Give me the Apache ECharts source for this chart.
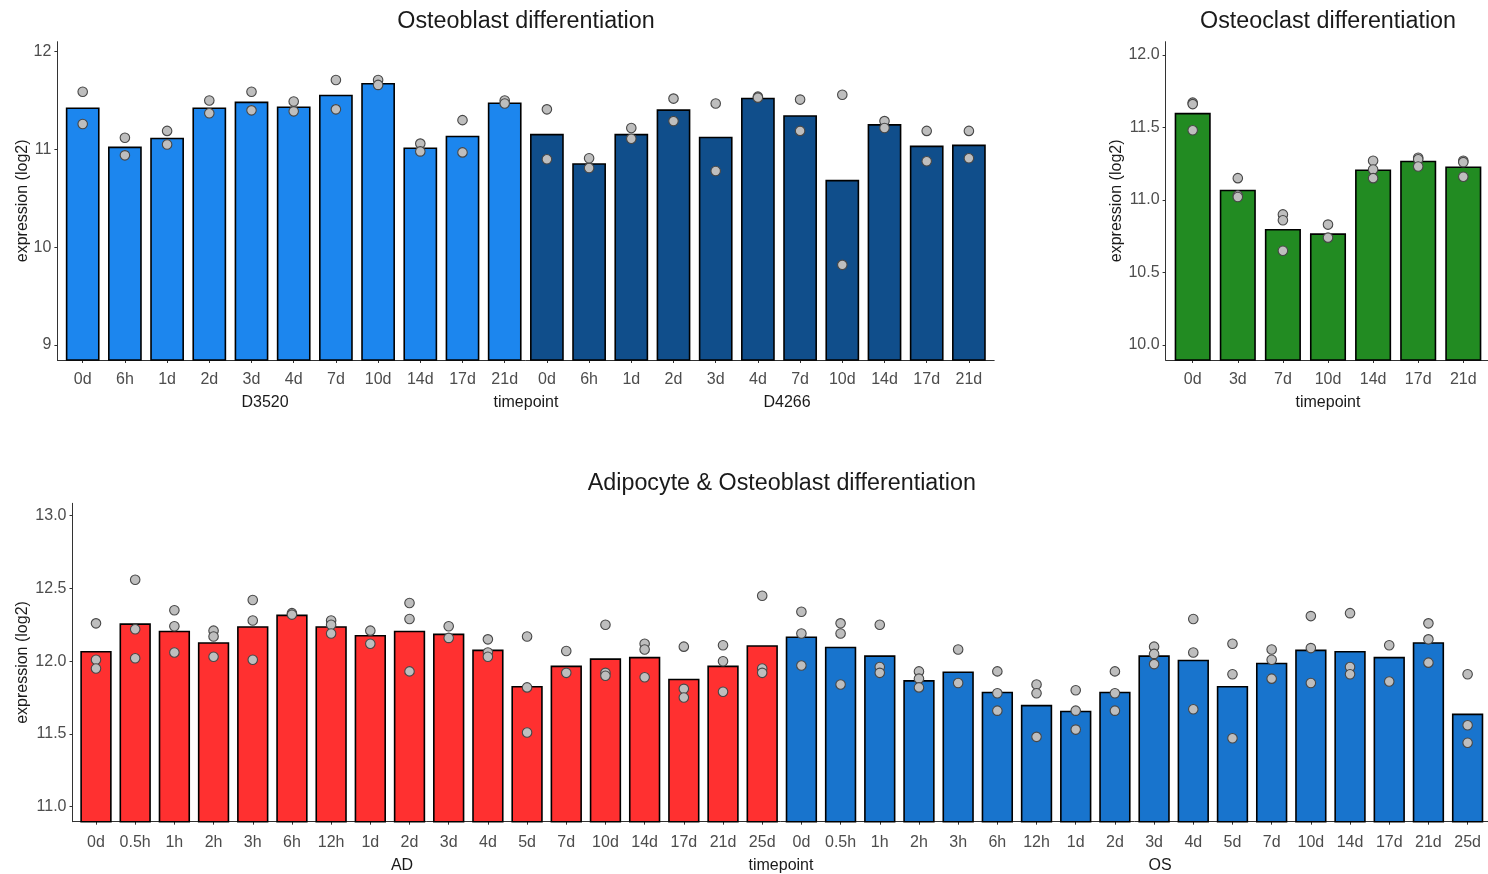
<!DOCTYPE html>
<html>
<head>
<meta charset="utf-8">
<script src="https://cdn.jsdelivr.net/npm/echarts@6/dist/echarts.min.js"></script>
<style>
  html, body { margin: 0; padding: 0; background: #ffffff; }
  #chart { width: 1488px; height: 874px; }
</style>
</head>
<body>
<div id="chart"></div>
<script>
// ---------- data: mean expression (bars) and replicate values (dots) ----------
const timeLabelsOB = ['0d', '6h', '1d', '2d', '3d', '4d', '7d', '10d', '14d', '17d', '21d'];

const d3520Means = [11.43, 11.03, 11.12, 11.43, 11.49, 11.44, 11.56, 11.68, 11.02, 11.14, 11.48];
const d3520Reps = [
  [11.59, 11.26], [11.12, 10.94], [11.19, 11.05], [11.50, 11.37], [11.59, 11.40], [11.49, 11.39],
  [11.71, 11.41], [11.71, 11.66], [11.06, 10.98], [11.30, 10.97], [11.50, 11.47]
];

const d4266Means = [11.16, 10.86, 11.16, 11.41, 11.13, 11.53, 11.35, 10.69, 11.26, 11.04, 11.05];
const d4266Reps = [
  [11.41, 10.90], [10.91, 10.81], [11.22, 11.11], [11.52, 11.29], [11.47, 10.78], [11.54, 11.53],
  [11.51, 11.19], [11.56, 9.82], [11.29, 11.22], [11.19, 10.88], [11.19, 10.91]
];

const timeLabelsOC = ['0d', '3d', '7d', '10d', '14d', '17d', '21d'];
const oclMeans = [11.60, 11.07, 10.80, 10.77, 11.21, 11.27, 11.23];
const oclReps = [
  [11.67, 11.66, 11.48], [11.15, 11.03, 11.02], [10.90, 10.86, 10.65], [10.83, 10.74],
  [11.27, 11.21, 11.15], [11.29, 11.28, 11.23], [11.27, 11.26, 11.16]
];

const timeLabelsAO = ['0d', '0.5h', '1h', '2h', '3h', '6h', '12h', '1d', '2d', '3d', '4d', '5d', '7d', '10d', '14d', '17d', '21d', '25d'];

const adMeans = [12.07, 12.26, 12.21, 12.13, 12.24, 12.32, 12.24, 12.18, 12.21, 12.19, 12.08, 11.83, 11.97, 12.02, 12.03, 11.88, 11.97, 12.11];
const adReps = [
  [12.26, 12.01, 11.95], [12.56, 12.22, 12.02], [12.35, 12.24, 12.06], [12.21, 12.17, 12.03],
  [12.42, 12.28, 12.01], [12.33, 12.32], [12.28, 12.25, 12.19], [12.21, 12.12],
  [12.40, 12.29, 11.93], [12.24, 12.16], [12.15, 12.06, 12.03], [12.17, 11.82, 11.51],
  [12.07, 11.92], [12.25, 11.92, 11.90], [12.12, 12.08, 11.89], [12.10, 11.81, 11.75],
  [12.11, 12.00, 11.79], [12.45, 11.95, 11.92]
];

const osMeans = [12.17, 12.10, 12.04, 11.87, 11.93, 11.79, 11.70, 11.66, 11.79, 12.04, 12.01, 11.83, 11.99, 12.08, 12.07, 12.03, 12.13, 11.64];
const osReps = [
  [12.34, 12.19, 11.97], [12.26, 12.19, 11.84], [12.25, 11.96, 11.92], [11.93, 11.88, 11.82],
  [12.08, 11.85], [11.93, 11.78, 11.66], [11.84, 11.78, 11.48], [11.80, 11.66, 11.53],
  [11.93, 11.78, 11.66], [12.10, 12.05, 11.98], [12.29, 12.06, 11.67], [12.12, 11.91, 11.47],
  [12.08, 12.01, 11.88], [12.31, 12.09, 11.85], [12.33, 11.96, 11.91], [12.11, 11.86],
  [12.26, 12.15, 11.99], [11.91, 11.56, 11.44]
];

const ticksOB = [9, 10, 11, 12];
const ticksOC = [10.0, 10.5, 11.0, 11.5, 12.0];
const ticksAO = [11.0, 11.5, 12.0, 12.5, 13.0];

// ---------- building blocks ----------
const FONT = "'Liberation Sans', Arial, sans-serif";
const AXIS_COLOR = '#333333';
const TEXT_COLOR = '#4d4d4d';

const grids = [], xAxes = [], yAxes = [], series = [], graphics = [];

// Each panel uses two grids: an outer one carrying the axis lines and the
// y-axis scale (with ggplot-like expansion), and an inner one holding the
// category band where bars and dots are drawn.
function addPanel(p) {
  const gi = grids.length;
  const h = p.bottom - p.top;
  grids.push({ left: p.outer[0], top: p.top, width: p.outer[1] - p.outer[0], height: h });
  grids.push({ left: p.inner[0], top: p.top, width: p.inner[1] - p.inner[0], height: h });

  xAxes.push({
    gridIndex: gi, type: 'value', min: 0, max: 1,
    axisLine: { show: true, lineStyle: { color: AXIS_COLOR, width: 1 } },
    axisTick: { show: false }, axisLabel: { show: false }, splitLine: { show: false }
  });
  yAxes.push({
    gridIndex: gi, type: 'value', min: p.min, max: p.max,
    axisLine: { show: true, lineStyle: { color: AXIS_COLOR, width: 1 } },
    axisTick: { show: true, length: 3, customValues: p.ticks, lineStyle: { color: AXIS_COLOR } },
    axisLabel: {
      customValues: p.ticks, margin: 6, fontSize: 16, fontFamily: FONT, color: TEXT_COLOR,
      padding: [0, 0, 5, 0], formatter: p.fmt
    },
    splitLine: { show: false },
    name: 'expression (log2)', nameLocation: 'middle', nameGap: p.nameGap, nameMoveOverlap: false,
    nameTextStyle: { fontSize: 16, fontFamily: FONT, color: '#1a1a1a' }
  });

  xAxes.push({
    gridIndex: gi + 1, type: 'category', data: p.categories, boundaryGap: true,
    axisLine: { show: false },
    axisTick: { show: true, alignWithLabel: true, length: 3, lineStyle: { color: AXIS_COLOR } },
    axisLabel: { interval: 0, margin: p.labelMargin, fontSize: 16, fontFamily: FONT, color: TEXT_COLOR },
    splitLine: { show: false }
  });
  yAxes.push({ gridIndex: gi + 1, type: 'value', min: p.min, max: p.max, show: false, splitLine: { show: false } });

  return { xi: xAxes.length - 1, yi: yAxes.length - 1, n: p.categories.length };
}

function addBars(ax, name, values, offset, color) {
  const data = new Array(ax.n).fill('-');
  values.forEach((v, i) => { data[offset + i] = v; });
  series.push({
    type: 'bar', name, xAxisIndex: ax.xi, yAxisIndex: ax.yi, data,
    barWidth: '80%', barGap: '-100%', clip: true, z: 2,
    itemStyle: { color, borderColor: '#000000', borderWidth: 1.6 }
  });
}

function addDots(ax, name, reps, offset) {
  const data = [];
  reps.forEach((arr, i) => arr.forEach(v => data.push([offset + i, v])));
  series.push({
    type: 'scatter', name, xAxisIndex: ax.xi, yAxisIndex: ax.yi, data,
    symbol: 'circle', symbolSize: 9.5, z: 3,
    itemStyle: { color: '#bebebe', borderColor: '#474747', borderWidth: 1.1, opacity: 1 }
  });
}

function addText(text, x, y, size, color) {
  graphics.push({
    type: 'text', x, y, silent: true,
    style: { text, fill: color, font: `${size}px ${FONT}`, textAlign: 'center', textVerticalAlign: 'middle' }
  });
}

// ---------- panel 1: osteoblast differentiation (two donors) ----------
const obCats = timeLabelsOB.concat(timeLabelsOB);
const ob = addPanel({
  outer: [57.4, 994.2], inner: [61.6, 990.0], top: 41.7, bottom: 360,
  min: 8.847, max: 12.102, ticks: ticksOB, fmt: v => String(Math.round(v)),
  categories: obCats, nameGap: 27, labelMargin: 12
});
addBars(ob, 'D3520', d3520Means, 0, '#1C86EE');
addBars(ob, 'D4266', d4266Means, timeLabelsOB.length, '#104E8B');
addDots(ob, 'D3520 replicates', d3520Reps, 0);
addDots(ob, 'D4266 replicates', d4266Reps, timeLabelsOB.length);

// ---------- panel 2: osteoclast differentiation ----------
const oc = addPanel({
  outer: [1165.6, 1490.4], inner: [1170.15, 1485.85], top: 41.7, bottom: 360,
  min: 9.897, max: 12.09, ticks: ticksOC, fmt: v => v.toFixed(1),
  categories: timeLabelsOC, nameGap: 41, labelMargin: 12
});
addBars(oc, 'Osteoclast', oclMeans, 0, '#228B22');
addDots(oc, 'Osteoclast replicates', oclReps, 0);

// ---------- panel 3: adipocyte & osteoblast differentiation ----------
const aoCats = timeLabelsAO.concat(timeLabelsAO);
const ao = addPanel({
  outer: [72.5, 1491.2], inner: [76.4, 1487.2], top: 503.3, bottom: 821.7,
  min: 10.897, max: 13.085, ticks: ticksAO, fmt: v => v.toFixed(1),
  categories: aoCats, nameGap: 42, labelMargin: 12.5
});
addBars(ao, 'AD', adMeans, 0, '#FF3030');
addBars(ao, 'OS', osMeans, timeLabelsAO.length, '#1874CD');
addDots(ao, 'AD replicates', adReps, 0);
addDots(ao, 'OS replicates', osReps, timeLabelsAO.length);

// ---------- titles and x-axis captions ----------
addText('Osteoblast differentiation', 526, 21.5, 23.3, '#1a1a1a');
addText('Osteoclast differentiation', 1328, 21.5, 23.3, '#1a1a1a');
addText('Adipocyte & Osteoblast differentiation', 781.8, 484, 23.3, '#1a1a1a');

addText('D3520', 265, 402.5, 16, '#1a1a1a');
addText('timepoint', 526, 402.5, 16, '#1a1a1a');
addText('D4266', 787, 402.5, 16, '#1a1a1a');
addText('timepoint', 1328, 402.5, 16, '#1a1a1a');
addText('AD', 402, 865.5, 16, '#1a1a1a');
addText('timepoint', 781, 865.5, 16, '#1a1a1a');
addText('OS', 1160, 865.5, 16, '#1a1a1a');

const chart = echarts.init(document.getElementById('chart'), null, { renderer: 'canvas' });
chart.setOption({
  animation: false,
  backgroundColor: '#ffffff',
  textStyle: { fontFamily: FONT },
  grid: grids,
  xAxis: xAxes,
  yAxis: yAxes,
  series: series,
  graphic: graphics
});
</script>
</body>
</html>
